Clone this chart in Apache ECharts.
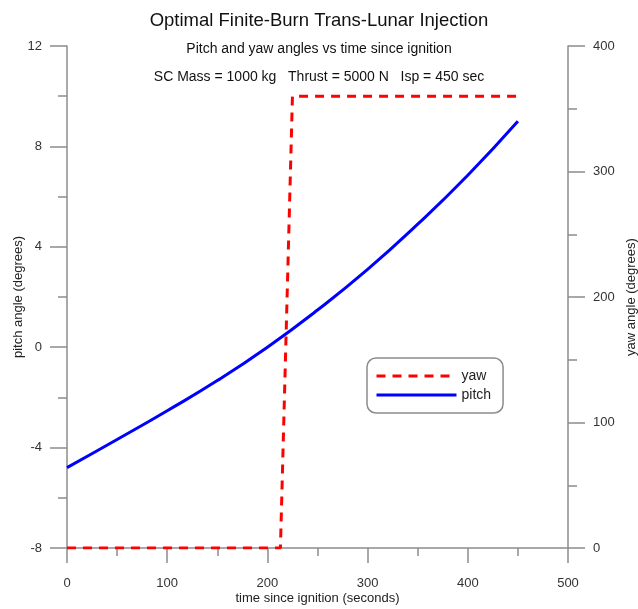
<!DOCTYPE html>
<html>
<head>
<meta charset="utf-8">
<script src="https://cdn.jsdelivr.net/npm/echarts@6/dist/echarts.min.js"></script>
<style>
  html, body { margin: 0; padding: 0; background: #fff; }
  #chart { width: 638px; height: 609px; }
</style>
</head>
<body>
<div id="chart"></div>
<script>
// time since ignition (seconds)
const pitchTime = [0, 50, 100, 150, 200, 250, 300, 350, 400, 450];
const pitchDeg = [-4.8, -3.68, -2.53, -1.33, 0.0, 1.48, 3.1, 4.9, 6.85, 9.0];

const yawTime = [0, 213, 225, 450];
const yawDeg = [0, 0, 360, 360];

const axisGray = '#8c8c8c';
const font = 'Liberation Sans, Arial, sans-serif';

const chart = echarts.init(document.getElementById('chart'));

const tickStyle = (len, minorLen) => ({
    axisLine: { show: true, onZero: false, lineStyle: { color: axisGray, width: 1.5 } },
    axisTick: { show: true, length: len, lineStyle: { color: axisGray, width: 1.5 } },
    minorTick: { show: true, splitNumber: 2, length: minorLen, lineStyle: { color: axisGray, width: 1.5 } },
    splitLine: { show: false },
    minorSplitLine: { show: false },
    nameMoveOverlap: false,
    nameTextStyle: { color: '#222', fontSize: 13, fontFamily: font }
});

chart.setOption({
    animation: false,
    backgroundColor: '#fff',
    title: [
        { text: 'Optimal Finite-Burn Trans-Lunar Injection', left: 'center', top: 6,
          textStyle: { fontSize: 18.5, fontWeight: 'normal', color: '#111', fontFamily: font } },
        { text: 'Pitch and yaw angles vs time since ignition', left: 'center', top: 37,
          textStyle: { fontSize: 14, fontWeight: 'normal', color: '#111', fontFamily: font } },
        { text: 'SC Mass = 1000 kg   Thrust = 5000 N   Isp = 450 sec', left: 'center', top: 65,
          textStyle: { fontSize: 14, fontWeight: 'normal', color: '#111', fontFamily: font } }
    ],
    grid: { left: 67, right: 70, top: 46, bottom: 61, outerBoundsMode: 'none', containLabel: false },
    legend: {
        orient: 'vertical',
        left: 367, top: 358,
        width: 110,
        data: ['yaw', 'pitch'],
        itemWidth: 80, itemHeight: 14, itemGap: 5,
        padding: [11, 12, 11, 8],
        itemStyle: { opacity: 0 },
        lineStyle: { width: 3 },
        borderColor: '#8c8c8c', borderWidth: 1.5, borderRadius: 9,
        textStyle: { fontSize: 14, color: '#222', fontFamily: font }
    },
    xAxis: {
        type: 'value', min: 0, max: 500, interval: 100,
        name: 'time since ignition (seconds)', nameLocation: 'middle', nameGap: 44,
        ...tickStyle(15, 8),
        axisLabel: { color: '#333', fontSize: 13, fontFamily: font, margin: 29 }
    },
    yAxis: [
        {
            type: 'value', min: -8, max: 12, interval: 4, position: 'left',
            name: 'pitch angle (degrees)', nameLocation: 'middle', nameGap: 42,
            ...tickStyle(17, 9),
            axisLabel: { color: '#333', fontSize: 13, fontFamily: font, margin: 25 }
        },
        {
            type: 'value', min: 0, max: 400, interval: 100, position: 'right',
            name: 'yaw angle (degrees)', nameLocation: 'middle', nameGap: 57, nameRotate: 90,
            ...tickStyle(17, 9),
            axisLabel: { color: '#333', fontSize: 13, fontFamily: font, margin: 25 }
        }
    ],
    series: [
        {
            name: 'yaw', type: 'line', yAxisIndex: 1,
            data: yawTime.map((t, i) => [t, yawDeg[i]]),
            symbol: 'none',
            lineStyle: { color: '#ff0000', width: 3, type: [9, 7] },
            itemStyle: { color: '#ff0000' },
            z: 3
        },
        {
            name: 'pitch', type: 'line', yAxisIndex: 0,
            data: pitchTime.map((t, i) => [t, pitchDeg[i]]),
            symbol: 'none', smooth: true,
            lineStyle: { color: '#0000ff', width: 3 },
            itemStyle: { color: '#0000ff' },
            z: 2
        }
    ]
});
</script>
</body>
</html>
